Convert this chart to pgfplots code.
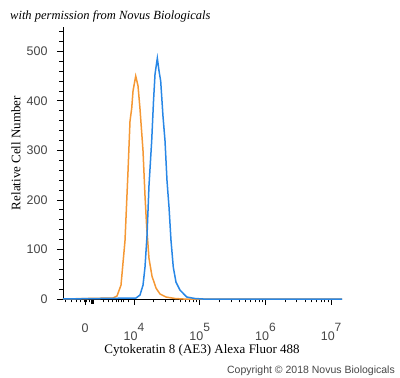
\documentclass[border=0pt]{standalone}
\usepackage{fontspec}
\setmainfont{Liberation Serif}
\newfontfamily\arial{Liberation Sans}
\usepackage{pgfplots}
\pgfplotsset{compat=1.18}
\definecolor{cyorange}{RGB}{245,152,52}
\definecolor{cyblue}{RGB}{40,135,230}
\definecolor{ticktext}{RGB}{70,70,70}
\newcommand\expo[1]{\raisebox{8.5bp}{\fontsize{12bp}{12bp}\selectfont #1}}
\begin{document}
\begin{tikzpicture}[x=1bp,y=1bp]
\useasboundingbox (0bp,0bp) rectangle (400bp,378bp);
\begin{axis}[
  at={(63bp,79bp)}, anchor=south west,
  scale only axis, width=279bp, height=272bp,
  xmin=2.919, xmax=7.166, ymin=0, ymax=549,
  axis x line=bottom, axis y line=left,
  axis line style={-, black, line width=0.9bp},
  xtick={3.254,4,5,6,7},
  xticklabels={0,10\expo{4},10\expo{5},10\expo{6},10\expo{7}},
  minor xtick={2.950,3.052,3.128,3.189,3.239,3.280,3.320,
    3.533,3.609,3.676,3.726,3.767,3.802,3.837,3.909,
    4.301,4.477,4.602,4.699,4.778,4.845,4.903,4.954,
    5.301,5.477,5.602,5.699,5.778,5.845,5.903,5.954,
    6.301,6.477,6.602,6.699,6.778,6.845,6.903,6.954},
  extra x ticks={3.361}, extra x tick labels={},
  extra x tick style={major tick length=5bp, tick style={line width=3bp, black}},
  ytick={0,100,200,300,400,500},
  minor ytick={20,40,60,80,120,140,160,180,220,240,260,280,320,340,360,380,420,440,460,480,520,540},
  tick align=outside, major tick length=6bp, minor tick length=3.5bp,
  tick style={black, line width=0.8bp},
  ticklabel style={font=\arial\fontsize{12.5bp}{14bp}\selectfont, text=ticktext},
  xticklabel style={yshift=-15bp},
  yticklabel style={xshift=-6bp},
  /pgf/number format/assume math mode=true,
  clip=false,
]
\addplot[cyorange, line width=1.5bp] coordinates {
 (2.919,0) (3.680,2) (3.741,6) (3.802,28) (3.863,118) (3.909,259) (3.939,359)
 (3.965,385) (3.985,420) (4.026,450) (4.061,430) (4.091,384) (4.137,299)
 (4.167,209) (4.193,145) (4.228,82) (4.274,46) (4.335,22) (4.396,10)
 (4.487,4) (4.624,1) (4.75,0) (7.166,0)};
\addplot[cyblue, line width=1.5bp] coordinates {
 (2.919,0) (4.030,2) (4.091,8) (4.137,28) (4.167,64) (4.198,128) (4.228,229)
 (4.269,319) (4.297,400) (4.320,454) (4.355,486) (4.381,460) (4.406,440)
 (4.441,369) (4.472,319) (4.502,239) (4.533,185) (4.563,118) (4.598,64)
 (4.639,34) (4.700,18) (4.802,4) (4.928,1) (5.05,0) (7.166,0)};
\end{axis}
\node at (202bp,28bp) {\fontsize{13bp}{15bp}\selectfont Cytokeratin 8 (AE3) Alexa Fluor 488};
\node[rotate=90] at (16bp,225bp) {\fontsize{13bp}{15bp}\selectfont Relative Cell Number};
\node[anchor=west, inner sep=0pt] at (10bp,362bp) {\fontsize{12.5bp}{14bp}\selectfont\itshape with permission from Novus Biologicals};
\node[anchor=east, inner sep=0pt, text=ticktext] at (395bp,7bp) {\arial\fontsize{10.5bp}{12bp}\selectfont Copyright \textcopyright{} 2018 Novus Biologicals};
\end{tikzpicture}
\end{document}
